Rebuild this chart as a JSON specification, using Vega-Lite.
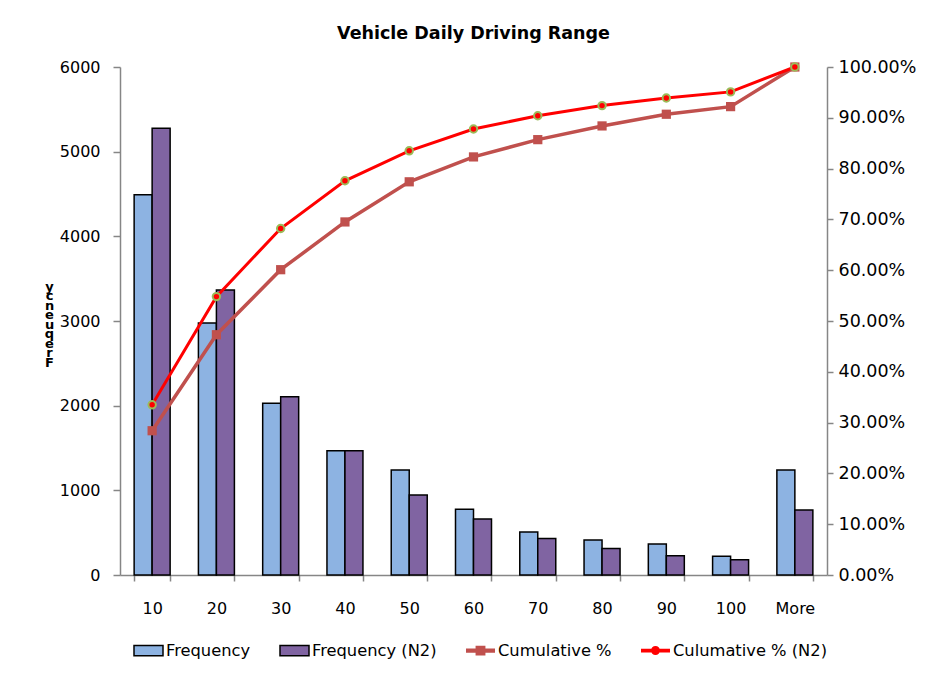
{
  "$schema": "https://vega.github.io/schema/vega-lite/v6.json",
  "autosize": "none",
  "width": 707,
  "height": 508,
  "padding": {"left": 120, "top": 67, "right": 108, "bottom": 98},
  "background": "white",
  "title": {"text": "Vehicle Daily Driving Range", "font": "DejaVu Sans", "fontSize": 17.5, "fontWeight": "bold", "color": "black", "offset": 16, "anchor": "middle"},
  "config": {
    "view": {"stroke": null},
    "axis": {"domainColor": "#868686", "tickColor": "#868686", "grid": false, "labelColor": "black", "labelFont": "DejaVu Sans", "labelFontSize": 16, "tickSize": 6, "domainWidth": 1.5, "tickWidth": 1.5}
  },
  "data": {"values": [
    {"bin": "10", "series": "Frequency", "kind": "freq", "value": 4490},
    {"bin": "20", "series": "Frequency", "kind": "freq", "value": 2975},
    {"bin": "30", "series": "Frequency", "kind": "freq", "value": 2030},
    {"bin": "40", "series": "Frequency", "kind": "freq", "value": 1467},
    {"bin": "50", "series": "Frequency", "kind": "freq", "value": 1240},
    {"bin": "60", "series": "Frequency", "kind": "freq", "value": 778},
    {"bin": "70", "series": "Frequency", "kind": "freq", "value": 508},
    {"bin": "80", "series": "Frequency", "kind": "freq", "value": 413},
    {"bin": "90", "series": "Frequency", "kind": "freq", "value": 366},
    {"bin": "100", "series": "Frequency", "kind": "freq", "value": 220},
    {"bin": "More", "series": "Frequency", "kind": "freq", "value": 1240},
    {"bin": "10", "series": "Frequency (N2)", "kind": "freq", "value": 5278},
    {"bin": "20", "series": "Frequency (N2)", "kind": "freq", "value": 3366},
    {"bin": "30", "series": "Frequency (N2)", "kind": "freq", "value": 2105},
    {"bin": "40", "series": "Frequency (N2)", "kind": "freq", "value": 1467},
    {"bin": "50", "series": "Frequency (N2)", "kind": "freq", "value": 945},
    {"bin": "60", "series": "Frequency (N2)", "kind": "freq", "value": 660},
    {"bin": "70", "series": "Frequency (N2)", "kind": "freq", "value": 430},
    {"bin": "80", "series": "Frequency (N2)", "kind": "freq", "value": 313},
    {"bin": "90", "series": "Frequency (N2)", "kind": "freq", "value": 226},
    {"bin": "100", "series": "Frequency (N2)", "kind": "freq", "value": 180},
    {"bin": "More", "series": "Frequency (N2)", "kind": "freq", "value": 768},
    {"bin": "10", "series": "Cumulative %", "kind": "cum", "value": 0.284},
    {"bin": "20", "series": "Cumulative %", "kind": "cum", "value": 0.473},
    {"bin": "30", "series": "Cumulative %", "kind": "cum", "value": 0.601},
    {"bin": "40", "series": "Cumulative %", "kind": "cum", "value": 0.695},
    {"bin": "50", "series": "Cumulative %", "kind": "cum", "value": 0.774},
    {"bin": "60", "series": "Cumulative %", "kind": "cum", "value": 0.823},
    {"bin": "70", "series": "Cumulative %", "kind": "cum", "value": 0.857},
    {"bin": "80", "series": "Cumulative %", "kind": "cum", "value": 0.884},
    {"bin": "90", "series": "Cumulative %", "kind": "cum", "value": 0.907},
    {"bin": "100", "series": "Cumulative %", "kind": "cum", "value": 0.922},
    {"bin": "More", "series": "Cumulative %", "kind": "cum", "value": 1.0},
    {"bin": "10", "series": "Culumative % (N2)", "kind": "cum", "value": 0.335},
    {"bin": "20", "series": "Culumative % (N2)", "kind": "cum", "value": 0.548},
    {"bin": "30", "series": "Culumative % (N2)", "kind": "cum", "value": 0.682},
    {"bin": "40", "series": "Culumative % (N2)", "kind": "cum", "value": 0.776},
    {"bin": "50", "series": "Culumative % (N2)", "kind": "cum", "value": 0.835},
    {"bin": "60", "series": "Culumative % (N2)", "kind": "cum", "value": 0.878},
    {"bin": "70", "series": "Culumative % (N2)", "kind": "cum", "value": 0.904},
    {"bin": "80", "series": "Culumative % (N2)", "kind": "cum", "value": 0.924},
    {"bin": "90", "series": "Culumative % (N2)", "kind": "cum", "value": 0.939},
    {"bin": "100", "series": "Culumative % (N2)", "kind": "cum", "value": 0.951},
    {"bin": "More", "series": "Culumative % (N2)", "kind": "cum", "value": 1.0}
  ]},
  "encoding": {
    "x": {
      "field": "bin", "type": "nominal",
      "sort": ["10", "20", "30", "40", "50", "60", "70", "80", "90", "100", "More"],
      "scale": {"paddingInner": 0.44, "paddingOuter": 0.22},
      "axis": {"title": null, "labelAngle": 0, "tickBand": "extent", "labelPadding": 19}
    }
  },
  "layer": [
    {
      "transform": [{"filter": "datum.kind === 'freq'"}],
      "mark": {"type": "bar", "stroke": "black", "strokeWidth": 1.5},
      "encoding": {
        "xOffset": {"field": "series", "type": "nominal", "sort": ["Frequency", "Frequency (N2)"], "scale": {"paddingInner": 0, "paddingOuter": 0}},
        "y": {
          "field": "value", "type": "quantitative",
          "scale": {"domain": [0, 6000], "nice": false},
          "axis": {"values": [0, 1000, 2000, 3000, 4000, 5000, 6000], "format": "d", "tickSize": 7, "labelPadding": 13,
            "title": ["y", "c", "n", "e", "u", "q", "e", "r", "F"],
            "titleAngle": 0, "titleAlign": "center", "titleBaseline": "top", "titleX": -71, "titleY": 213,
            "titleFont": "DejaVu Sans", "titleFontSize": 13, "titleFontWeight": "bold", "titleLineHeight": 9.5, "titleColor": "black"}
        },
        "color": {
          "field": "series", "type": "nominal",
          "scale": {"domain": ["Frequency", "Frequency (N2)", "Cumulative %", "Culumative % (N2)"], "range": ["#8DB3E2", "#8064A2", "#C0504D", "#FF0000"]},
          "legend": {
            "title": null, "orient": "none", "legendX": 13, "legendY": 568, "direction": "horizontal",
            "labelFont": "DejaVu Sans", "labelFontSize": 16.3, "labelColor": "black", "labelOffset": 2,
            "symbolSize": 841, "columnPadding": 26,
            "encoding": {"symbols": {
              "shape": {"value": {"expr": "indexof(datum.value, 'Freq') === 0 ? 'M-1,-0.35H1V0.35H-1Z' : (datum.value === 'Cumulative %' ? 'M-1,-0.14H1V0.14H-1Z M-0.34,-0.34H0.34V0.34H-0.34Z' : 'M-1,-0.13H1V0.13H-1Z M-0.31,0A0.31,0.31 0 1,1 0.31,0A0.31,0.31 0 1,1 -0.31,0Z')"}},
              "stroke": {"value": {"expr": "indexof(datum.value, 'Freq') === 0 ? 'black' : 'transparent'"}},
              "strokeWidth": {"value": 1.5},
              "opacity": {"value": 1}
            }}
          }
        }
      }
    },
    {
      "encoding": {
        "y": {
          "field": "value", "type": "quantitative",
          "scale": {"domain": [0, 1], "nice": false},
          "axis": {"orient": "right", "values": [0, 0.1, 0.2, 0.3, 0.4, 0.5, 0.6, 0.7, 0.8, 0.9, 1.0], "format": ".2%", "labelFontSize": 17.5, "labelPadding": 5, "title": null}
        }
      },
      "layer": [
        {"transform": [{"filter": "datum.series === 'Cumulative %'"}], "mark": {"type": "line", "color": "#C0504D", "strokeWidth": 3.5}, "encoding": {}},
        {"transform": [{"filter": "datum.series === 'Culumative % (N2)'"}], "mark": {"type": "line", "color": "#FF0000", "strokeWidth": 3}, "encoding": {}},
        {"transform": [{"filter": "datum.series === 'Cumulative %'"}], "mark": {"type": "point", "shape": "square", "filled": true, "size": 85, "color": "#C0504D", "opacity": 1}, "encoding": {}},
        {"transform": [{"filter": "datum.series === 'Culumative % (N2)'"}], "mark": {"type": "point", "shape": "circle", "filled": true, "size": 55, "fill": "#FF0000", "stroke": "#9BBB59", "strokeWidth": 2, "opacity": 1}, "encoding": {}}
      ]
    }
  ],
  "resolve": {"scale": {"y": "independent"}}
}
